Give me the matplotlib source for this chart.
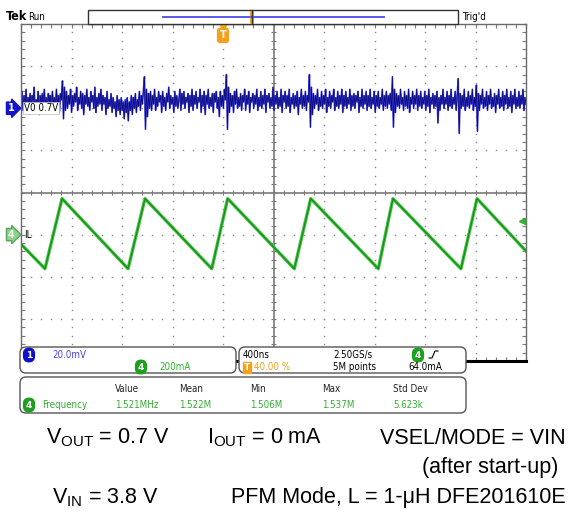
import numpy as np
import matplotlib.pyplot as plt
from matplotlib.patches import FancyBboxPatch, Rectangle
from matplotlib.ticker import MultipleLocator
from matplotlib.transforms import blended_transform_factory

plt.rcParams['font.family'] = ['DejaVu Sans']
plt.rcParams['mathtext.fontset'] = 'custom'
plt.rcParams['mathtext.rm'] = 'Liberation Sans'

# scope settings
t_per_div = 400            # ns / div
t_start, t_stop = -1600, 2400
ch1_mv_per_div = 20.0
ch1_pos = 2.0              # divisions
ch4_ma_per_div = 200.0
ch4_pos = -1.0
trig_level_ma = 64.0

# inductor current corners (ns, mA)
il_t = [-1600, -1410, -1275, -752, -618, -89, 37, 565, 695, 1230, 1346, 1885, 2012, 2400]
il_ma = [-45, -162, 171, -162, 171, -162, 171, -162, 171, -162, 171, -162, 171, -78]

# output ripple (mV around 0.7 V), sampled across the screen
vout_mv = [
    3, 8, -1, 6, 1, 9, -2, 5, 2, 7,
    0, 6, 3, 10, -1, 4, 1, 8, -3, 6,
    2, 7, 0, 9, 1, 5, -2, 7, 3, 6,
    -1, 8, 2, 5, 0, 9, 1, 6, -2, 7,
    4, 13, -5, 10, -1, 8, 0, 6, 2, 9,
    -2, 6, 1, 7, 3, 10, -1, 5, 2, 8,
    0, 7, -3, 6, 2, 9, 1, 5, -1, 8,
    3, 6, 0, 10, -2, 5, 1, 7, 2, 9,
    -1, 6, 2, 5, -3, 8, 0, 4, 1, 7,
    -2, 5, 0, 3, -4, 6, -1, 4, -3, 5,
    -1, 3, -5, 4, -2, 5, -6, 3, -1, 6,
    -3, 5, 0, 7, -2, 4, 1, 8, -1, 6,
    2, 9, 15, -10, 9, -4, 7, 0, 8, -1,
    6, 2, 9, -1, 5, 1, 8, 3, 6, -2,
    8, 1, 5, -1, 7, 3, 10, 0, 6, 2,
    5, -2, 8, 1, 6, 0, 4, 9, -1, 7,
    2, 8, 0, 5, 3, 7, -2, 6, 1, 9,
    -1, 6, 2, 8, 0, 5, 3, 9, -2, 6,
    1, 8, -3, 6, 2, 9, 0, 5, 1, 7,
    -2, 7, 3, 8, 0, 5, -4, 8, 1, 6,
    0, 9, 4, 16, -10, 10, -2, 7, 1, 6,
    -2, 8, 2, 9, 0, 5, 1, 7, -1, 6,
    3, 9, -1, 6, 2, 8, -2, 5, 3, 7,
    0, 6, 2, 9, -1, 5, 1, 8, 0, 6,
    2, 9, -2, 6, 3, 7, 0, 5, 1, 10,
    -1, 6, 2, 8, 0, 5, 1, 9, -2, 6,
    3, 8, 0, 6, 1, 9, -2, 5, 2, 7,
    0, 6, 1, 8, -3, 5, 2, 9, 0, 6,
    1, 8, -1, 6, 3, 16, -9, 10, -3, 7,
    0, 6, 2, 9, -1, 5, 1, 8, 0, 6,
    2, 9, -2, 5, 1, 8, 0, 6, 3, 9,
    -1, 5, 1, 8, 0, 6, 2, 9, -2, 6,
    1, 8, 0, 5, 2, 9, -1, 6, 1, 7,
    0, 6, 3, 8, -2, 5, 1, 9, 0, 6,
    2, 8, -1, 6, 1, 9, 0, 5, 2, 8,
    -2, 6, 1, 8, 0, 5, 2, 9, -1, 6,
    1, 8, 0, 6, 2, 7, -1, 15, -9, 9,
    -2, 7, 1, 6, 0, 9, 2, 5, -1, 8,
    1, 6, 0, 9, -2, 5, 2, 8, 0, 6,
    2, 9, -1, 6, 1, 8, 0, 5, 2, 8,
    -1, 6, 1, 9, -2, 5, 2, 7, 0, 6,
    1, 8, -7, 5, -1, 6, 2, 9, 0, 5,
    2, 8, -1, 6, 1, 9, 0, 5, 2, 8,
    -1, 6, 14, -12, 7, 0, 6, 1, 9, -1,
    5, 1, 8, 0, 6, 2, 9, -1, 5, 1,
    11, -11, 7, -1, 6, 2, 9, 0, 5, 1,
    8, -1, 6, 2, 9, 0, 5, 1, 7, -2,
    6, 2, 9, 0, 5, 1, 8, -1, 6, 2,
    9, 0, 5, 1, 8, -2, 6, 2, 9, 0,
    5, 1, 8, 0, 6, 2, 9, -1, 5, 2,
]

# readouts
ch1_scale_txt = '20.0mV'
ch4_scale_txt = '200mA'
timebase_txt = '400ns'
sample_rate_txt = '2.50GS/s'
trig_pos_txt = '40.00 %'
record_txt = '5M points'
trig_level_txt = '64.0mA'
meas_name = 'Frequency'
meas_headers = ['Value', 'Mean', 'Min', 'Max', 'Std Dev']
meas_values = ['1.521MHz', '1.522M', '1.506M', '1.537M', '5.623k']

green = '#2DB52D'
orange = '#F5A01A'
grid_col = '#8a8a8a'

fig = plt.figure(figsize=(5.7, 5.14), dpi=100)
ax = fig.add_axes([21 / 570, 153 / 514, 505 / 570, 337 / 514])
ax.set_xlim(t_start, t_stop)
ax.set_ylim(-4, 4)
t_center = (t_start + t_stop) / 2

# dotted graticule
xminor = np.arange(t_start, t_stop + 1, t_per_div / 5)
yminor = np.arange(-4, 4.001, 0.2)
for xv in np.arange(t_start + t_per_div, t_stop, t_per_div):
    if xv != t_center:
        ax.plot(np.full_like(yminor, xv), yminor, ls='none', marker='s', ms=1.0, mew=0, color=grid_col)
for yv in range(-3, 4):
    if yv != 0:
        ax.plot(xminor, np.full_like(xminor, yv, dtype=float), ls='none', marker='s', ms=1.0, mew=0, color=grid_col)
ax.axvline(t_center, color='#7a7a7a', lw=1.2)
ax.axhline(0, color='#7a7a7a', lw=1.2)
ax.vlines(xminor, -0.07, 0.07, color='#7a7a7a', lw=0.8)
ax.hlines(yminor, t_center - 22, t_center + 22, color='#7a7a7a', lw=0.8)

ax.xaxis.set_major_locator(MultipleLocator(t_per_div))
ax.xaxis.set_minor_locator(MultipleLocator(t_per_div / 5))
ax.yaxis.set_major_locator(MultipleLocator(1))
ax.yaxis.set_minor_locator(MultipleLocator(0.2))
ax.tick_params(which='both', direction='in', length=3, width=0.8, color='#7a7a7a',
               top=True, right=True, labelbottom=False, labelleft=False)
for side in ['left', 'top', 'right']:
    ax.spines[side].set_color('#6a6a6a')
    ax.spines[side].set_linewidth(1.0)
ax.spines['bottom'].set_color('black')
ax.spines['bottom'].set_linewidth(2.2)

# traces
vt = np.linspace(t_start, t_stop, len(vout_mv))
vy = ch1_pos + np.array(vout_mv) / ch1_mv_per_div
ax.plot(vt, vy, color='#4040D8', lw=1.2)
ax.plot(vt, vy, color='#08087A', lw=0.5)

iy = ch4_pos + np.array(il_ma) / ch4_ma_per_div
ax.plot(il_t, iy, color='#42C442', lw=2.4)
ax.plot(il_t, iy, color='#178A17', lw=0.9)

# trace labels and markers
ax.text(t_start + 25, ch1_pos, 'V0 0.7V', ha='left', va='center', fontsize=7, fontstretch='condensed',
        bbox=dict(fc='white', ec='#bbbbbb', lw=0.5, pad=0.6), zorder=5)
ax.text(t_start + 25, ch4_pos, 'IL', ha='left', va='center', fontsize=7, fontstretch='condensed', zorder=5)
trl = blended_transform_factory(fig.transFigure, ax.transData)
ax.text(11 / 570, ch1_pos, '1', transform=trl, ha='center', va='center', color='white',
        fontsize=7, fontweight='bold', clip_on=False,
        bbox=dict(boxstyle='rarrow,pad=0.12', fc='#1515C8', ec='#1515C8'))
ax.text(11 / 570, ch4_pos, '4', transform=trl, ha='center', va='center', color='#eaffea',
        fontsize=7, fontweight='bold', clip_on=False,
        bbox=dict(boxstyle='rarrow,pad=0.12', fc='#8fcf8f', ec='#5aa55a'))
ax.plot([t_stop - 30], [ch4_pos + trig_level_ma / ch4_ma_per_div], marker='<', ms=5,
        color=green, clip_on=False, zorder=6)

# trigger position marker
ttr = blended_transform_factory(ax.transData, ax.transAxes)
ax.plot([0], [0.99], marker='v', ms=6, color=orange, transform=ttr, clip_on=False, zorder=6)
ax.text(0, 0.966, 'T', transform=ttr, ha='center', va='center', color='white', fontsize=7,
        fontweight='bold', clip_on=False, zorder=7,
        bbox=dict(boxstyle='round,pad=0.2', fc=orange, ec=orange))

# overlay in pixel coordinates for the readouts
ov = fig.add_axes([0, 0, 1, 1])
ov.set_xlim(0, 570)
ov.set_ylim(514, 0)
ov.axis('off')

ov.text(6, 17, 'Tek', fontsize=9, fontweight='bold', va='center', fontstretch='condensed')
ov.text(28, 17, 'Run', fontsize=7, va='center', fontstretch='condensed')
ov.add_patch(Rectangle((88, 10), 370, 14, fc='white', ec='#333333', lw=1))
ov.plot([163, 384], [17, 17], color='#5a5aee', lw=1.4)
ov.add_patch(Rectangle((249.5, 10.5), 4, 13, fc=orange, ec='none'))
ov.plot([251.5, 251.5], [10, 24], color='#333333', lw=1)
ov.text(462, 17, "Trig'd", fontsize=7, va='center', fontstretch='condensed')

box_kw = dict(boxstyle='round,pad=0,rounding_size=6', fc='white', ec='#555555', lw=1)
ov.add_patch(FancyBboxPatch((20, 347), 216, 26, **box_kw))
ov.add_patch(FancyBboxPatch((239, 347), 227, 26, **box_kw))
ov.add_patch(FancyBboxPatch((20, 377), 446, 36, **box_kw))

def badge(x, y, s, fc):
    ov.text(x, y, s, ha='center', va='center', color='white', fontsize=6.5, fontweight='bold',
            bbox=dict(boxstyle='round,pad=0.25,rounding_size=0.6', fc=fc, ec=fc))

small = dict(fontsize=7, va='center', fontstretch='condensed')
badge(29, 355, '1', '#1010C8')
ov.text(52, 355, ch1_scale_txt, color='#4646F0', **small)
badge(141, 367, '4', '#1EA01E')
ov.text(159, 367, ch4_scale_txt, color=green, **small)

ov.text(243, 355, timebase_txt, color='black', **small)
ov.text(333, 355, sample_rate_txt, color='black', **small)
badge(418, 355, '4', '#1EA01E')
ov.plot([429, 432, 435, 438], [358, 358, 351, 351], color='black', lw=0.8)
ov.text(247, 367.5, 'T', ha='center', va='center', color='white', fontsize=6.5, fontweight='bold',
        bbox=dict(boxstyle='square,pad=0.15', fc=orange, ec=orange))
ov.text(254, 367.5, trig_pos_txt, color=orange, **small)
ov.text(333, 367.5, record_txt, color='black', **small)
ov.text(408, 367.5, trig_level_txt, color='black', **small)

col_x = [115, 179, 250, 322, 393]
for cx, h, v in zip(col_x, meas_headers, meas_values):
    ov.text(cx, 389, h, color='#222222', **small)
    ov.text(cx, 405, v, color='#33AE33', **small)
badge(29, 405, '4', '#1EA01E')
ov.text(42, 405, meas_name, color='#33AE33', **small)

big = dict(fontsize=15.5, va='center', fontfamily='Liberation Sans')
ov.text(46, 438, r'V$_{\mathrm{OUT}}$ = 0.7 V', ha='left', **big)
ov.text(207, 438, r'I$_{\mathrm{OUT}}$ = 0 mA', ha='left', **big)
ov.text(566, 438, 'VSEL/MODE = VIN', ha='right', **big)
ov.text(558, 468, '(after start-up)', ha='right', **big)
ov.text(52, 498, r'V$_{\mathrm{IN}}$ = 3.8 V', ha='left', **big)
ov.text(566, 498, 'PFM Mode, L = 1-\u03bcH DFE201610E', ha='right', **big)

fig.savefig('out.png', dpi=100)
